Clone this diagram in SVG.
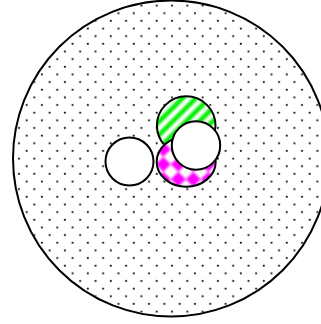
<svg xmlns="http://www.w3.org/2000/svg" width="321" height="324" viewBox="0 0 321 324">
  <defs>
    <pattern id="dots" patternUnits="userSpaceOnUse" x="0" y="0" width="15.3" height="15.3">
      <circle cx="3.7" cy="5.6" r="1.1" fill="#111"/>
      <circle cx="11.35" cy="13.25" r="1.1" fill="#111"/>
    </pattern>
    <pattern id="stripes" patternUnits="userSpaceOnUse" x="-1.89" y="0" width="9.43" height="9.43" patternTransform="rotate(45)">
      <rect x="0" y="0" width="4.72" height="9.43" fill="#00ee00"/>
    </pattern>
    <pattern id="checks" patternUnits="userSpaceOnUse" x="178.3" y="179.3" width="15" height="15">
      <path d="M0 -7.5 L7.5 0 L0 7.5 L-7.5 0 Z M15 -7.5 L22.5 0 L15 7.5 L7.5 0 Z M0 7.5 L7.5 15 L0 22.5 L-7.5 15 Z M15 7.5 L22.5 15 L15 22.5 L7.5 15 Z" fill="#ff00ff"/>
    </pattern>
    <filter id="soft" x="-10%" y="-10%" width="120%" height="120%">
      <feGaussianBlur stdDeviation="0.8"/>
    </filter>
    <clipPath id="greenClip">
      <circle cx="186.2" cy="125.6" r="29.3"/>
    </clipPath>
    <clipPath id="magClip">
      <ellipse cx="186.2" cy="161.7" rx="29.5" ry="25"/>
    </clipPath>
    <style>
      .shape { stroke: #000; stroke-width: 2; }
    </style>
  </defs>
  <g id="outer">
    <circle class="shape" cx="171" cy="158.5" r="158" fill="#fff"/>
    <circle cx="171" cy="158.5" r="157" fill="url(#dots)"/>
  </g>
  <g id="left-circle">
    <circle class="shape" cx="129.5" cy="161.5" r="24" fill="#fff"/>
  </g>
  <g id="green-circle">
    <circle cx="186.2" cy="125.6" r="29.3" fill="#fff"/>
    <g clip-path="url(#greenClip)">
      <rect x="150" y="90" width="75" height="75" fill="url(#stripes)" filter="url(#soft)"/>
    </g>
    <circle class="shape" cx="186.2" cy="125.6" r="29.3" fill="none"/>
  </g>
  <g id="magenta-ellipse">
    <ellipse cx="186.2" cy="161.7" rx="29.5" ry="25" fill="#fff"/>
    <g clip-path="url(#magClip)">
      <rect x="150" y="130" width="75" height="65" fill="url(#checks)" filter="url(#soft)"/>
    </g>
    <ellipse class="shape" cx="186.2" cy="161.7" rx="29.5" ry="25" fill="none"/>
  </g>
  <g id="front-circle">
    <circle class="shape" cx="196" cy="145.5" r="24.2" fill="#fff"/>
  </g>
  <g id="connectors"></g>
</svg>
